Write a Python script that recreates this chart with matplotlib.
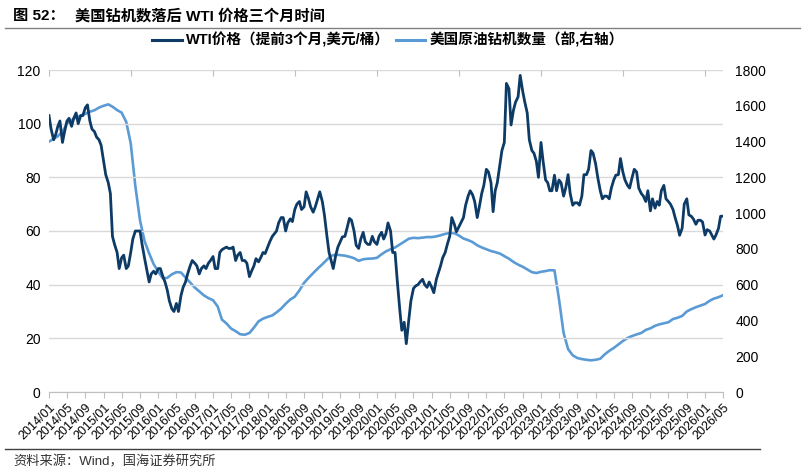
import numpy as np
import pandas as pd
import matplotlib
matplotlib.use("Agg")
import matplotlib.pyplot as plt
from matplotlib.lines import Line2D

plt.rcParams['font.family'] = ['Liberation Sans', 'Noto Sans CJK SC', 'DejaVu Sans']

# axis dates 2014/01 .. 2026/05
months = pd.date_range('2014-01-01', '2026-05-01', freq='MS')
half_months = pd.date_range('2014-01-01', '2026-05-01', freq='SMS')
x_labels = [d.strftime('%Y/%m') for d in months[::4]]

# WTI price, shifted 3 months forward (USD/bbl), twice a month
wti = [103, 98, 94, 96, 99, 101, 93, 97, 101, 102,
       99, 102, 104, 100, 103, 103, 106, 107, 101, 98,
       97, 95, 94, 92, 86, 81, 78, 74, 58, 55,
       52, 46, 50, 51, 46, 47, 52, 57, 60, 60,
       60, 55, 50, 46, 41, 44, 45, 44, 46, 46,
       43, 41, 38, 34, 31, 30, 33, 30, 36, 39,
       41, 44, 47, 49, 48, 47, 44, 46, 47, 46,
       48, 49, 50.5, 46, 46, 52, 53, 53.5, 54, 53.5,
       53.5, 54, 49, 51, 52, 49, 49, 48, 43, 45,
       47, 49.7, 48.5, 50, 52, 51.6, 54, 56, 58, 59,
       60, 63, 65, 65, 60, 63, 64.5, 63.5, 68, 70,
       71, 68, 69, 74.6, 72, 69, 67, 69, 72, 74.6,
       71, 66, 58, 52, 49, 46, 51, 54, 56, 57.8,
       58, 61, 64.7, 64, 60, 54.7, 53.5, 57, 59.5, 56,
       55, 55, 58, 56, 55, 58, 59.5, 57, 59, 63,
       60, 52, 52, 42, 31, 23, 26, 18, 27, 34,
       38.6, 39.5, 40, 41, 42, 40, 39, 41, 39, 37,
       42, 44.5, 47, 50, 52, 55, 58, 65, 62.5, 59.7,
       61.5, 63, 65, 69.5, 73, 75, 73.5, 71, 65, 69,
       74, 77, 83, 82, 78, 67.2, 75, 78, 84.6, 90,
       93, 115, 113, 99.5, 105, 108, 110, 118, 112, 108,
       104, 94, 90, 89, 86, 80, 93, 86, 79, 78,
       75, 75, 80.8, 75, 79, 78, 73, 76, 81, 74,
       69.6, 70.5, 70.5, 69.6, 73, 81, 81, 83, 90, 89,
       85, 80, 75, 72, 73, 73, 72, 76, 79, 80.8,
       81, 87, 82, 79, 77, 76, 80, 83, 82, 76,
       74, 73, 71, 75, 67.5, 72, 68.5, 71, 69.6, 75,
       77, 72, 71, 70, 68, 65, 62, 58.4, 61, 70,
       72, 66, 65.5, 64.5, 62.5, 64, 64, 63.4, 58.5, 60.5,
       60, 58.5, 57, 58.5, 61, 65.5, 65.5]

# US crude oil rig count (right axis), monthly
rigs = [1400, 1415, 1430, 1455, 1500, 1520, 1535, 1545, 1555, 1567,
        1575, 1590, 1600, 1608, 1595, 1576, 1562, 1510, 1390, 1150,
        960, 845, 775, 715, 672, 635, 638, 658, 670, 668,
        640, 612, 584, 562, 540, 525, 513, 478, 405, 383,
        355, 340, 323, 320, 330, 360, 395, 410, 420, 428,
        445, 466, 493, 517, 533, 568, 610, 638, 664, 690,
        714, 740, 761, 768, 765, 762, 756, 748, 733, 742,
        745, 746, 750, 770, 786, 798, 808, 824, 840, 857,
        862, 860, 863, 866, 866, 870, 876, 884, 890, 888,
        875, 858, 849, 838, 820, 808, 798, 788, 782, 774,
        760, 745, 727, 712, 700, 685, 670, 665, 672, 676,
        681, 680, 520, 330, 240, 205, 190, 184, 180, 177,
        180, 186, 210, 230, 246, 266, 285, 302, 313, 322,
        330, 347, 356, 370, 378, 384, 390, 408, 415, 425,
        450, 463, 474, 483, 492, 510, 522, 530, 541]

c_dark = '#0d3b66'
c_light = '#5b9bd5'
grid_c = '#d9d9d9'

fig = plt.figure(figsize=(8.04, 4.75), dpi=100)
ax = fig.add_axes([49 / 804, 1 - 392 / 475, (723 - 49) / 804, (392 - 70) / 475])
ax2 = ax.twinx()

ax.plot(half_months, wti, color=c_dark, lw=2.0, zorder=3)
ax2.plot(months, rigs, color=c_light, lw=1.9, zorder=2)
ax.set_zorder(ax2.get_zorder() + 1)
ax.patch.set_visible(False)

ax.set_xlim(months[0], months[-1])
ax.set_ylim(0, 120)
ax2.set_ylim(0, 1800)
ax.set_yticks(np.arange(0, 121, 20))
ax2.set_yticks(np.arange(0, 1801, 200))
ax.yaxis.grid(True, color=grid_c, lw=1)
ax.set_axisbelow(True)

ax.set_xticks(months[::4])
ax.set_xticklabels(x_labels, rotation=45, ha='right', va='top',
                   rotation_mode='anchor', fontsize=9)
ax.tick_params(axis='x', length=4, color='#bfbfbf', pad=3)
ax.tick_params(axis='y', length=0, labelsize=10, pad=6)
ax2.tick_params(axis='y', length=0, labelsize=10, pad=9)

for a in (ax, ax2):
    for s in a.spines.values():
        s.set_visible(False)
ax.spines['bottom'].set_visible(True)
ax.spines['bottom'].set_color('#bfbfbf')

# short ticks hanging from the top (secondary category axis)
ax3 = ax.twiny()
ax3.set_xlim(ax.get_xlim())
ax3.set_xticks(months[::18])
ax3.set_xticklabels([])
ax3.tick_params(axis='x', direction='in', length=4, color='#bfbfbf')
for s in ax3.spines.values():
    s.set_visible(False)

# title
fig.text(13 / 804, 1 - 16 / 475, '图 52：', fontsize=11, fontweight='bold',
         family=['Liberation Sans', 'Noto Sans CJK SC'], va='center')
fig.text(75 / 804, 1 - 16 / 475, '美国钻机数落后 WTI 价格三个月时间', fontsize=11,
         fontweight='bold', family=['Liberation Sans', 'Noto Sans CJK SC'], va='center')
fig.add_artist(Line2D([5 / 804, 800 / 804], [1 - 28 / 475, 1 - 28 / 475],
                      color='#808080', lw=1, transform=fig.transFigure))

# legend
handles = [Line2D([], [], color=c_dark, lw=2.2), Line2D([], [], color=c_light, lw=2.2)]
labels = ['WTI价格（提前3个月,美元/桶）', '美国原油钻机数量（部,右轴）']
fig.legend(handles, labels, loc='center', bbox_to_anchor=(388 / 804, 1 - 40 / 475),
           ncol=2, frameon=False, handlelength=2.0, handletextpad=0.3,
           columnspacing=0.4, prop={'size': 10.5, 'weight': 'bold',
                                    'family': ['Liberation Sans', 'Noto Sans CJK SC']})

# source
fig.add_artist(Line2D([5 / 804, 760 / 804], [1 - 449 / 475, 1 - 449 / 475],
                      color='#404040', lw=1, transform=fig.transFigure))
fig.text(13 / 804, 1 - 462 / 475, '资料来源：Wind，国海证券研究所', fontsize=9.5,
         family=['Liberation Sans', 'Noto Sans CJK SC'], va='center', color='#333333')

fig.savefig('out.png', dpi=100)
